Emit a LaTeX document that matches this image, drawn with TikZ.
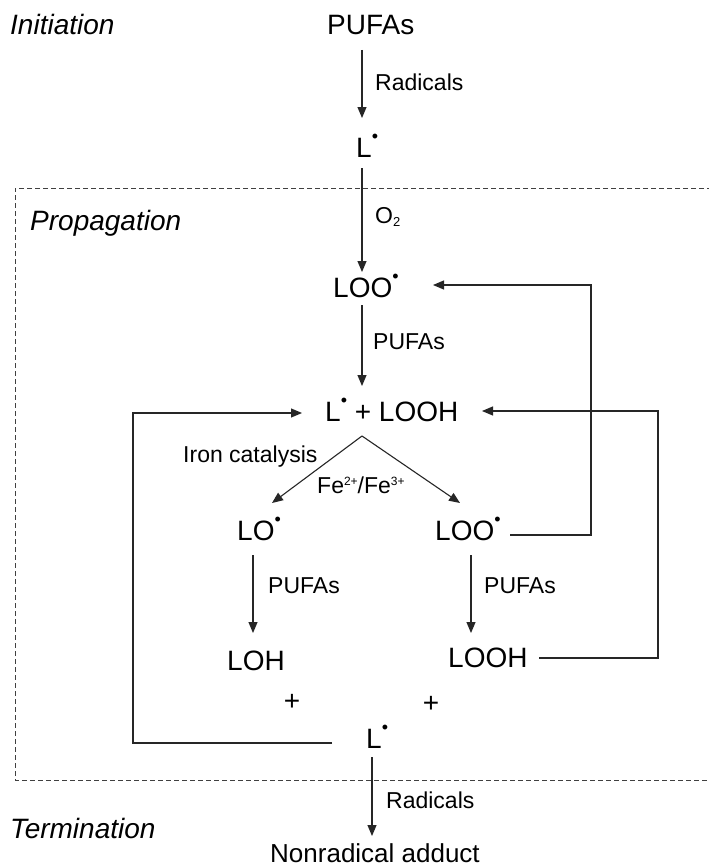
\documentclass[tikz,border=0pt]{standalone}
\usepackage{fontspec}
\setmainfont{Liberation Sans}
\usetikzlibrary{arrows.meta,calc}
\newcommand{\rad}{\raisebox{14.5pt}{\fontsize{18}{18}\selectfont •}}
\newcommand{\upidx}[1]{\raisebox{8pt}{\fontsize{12}{12}\selectfont #1}}
\newcommand{\dnidx}[1]{\raisebox{-3pt}{\fontsize{13}{13}\selectfont #1}}
\begin{document}
\begin{tikzpicture}[x=1pt,y=-1pt,
  main/.style={inner sep=0pt, anchor=base west, font=\fontsize{28}{30}\selectfont},
  lab/.style={inner sep=0pt, anchor=base west, font=\fontsize{23}{25}\selectfont},
  stage/.style={inner sep=0pt, anchor=base west, font=\fontsize{28}{30}\selectfont\itshape},
  arr/.style={-{Triangle[length=11pt,width=9pt]}, line width=1.1pt, draw=black!85},
  box/.style={dash pattern=on 5pt off 3pt, line width=0.9pt, draw=black!75}]
\useasboundingbox (0,0) rectangle (709,867);
\fill[white] (0,0) rectangle (709,867);

\draw[box] (712,188) -- (15,188) -- (15,780) -- (712,780);

\node[stage] (init) at (10,35) {Initiation};
\node[main] (pufa) at (327,35) {PUFAs};
\node[lab] (rad1) at (375,90) {Radicals};
\node[main] (l1) at (356,157) {L\rad};
\node[stage] (prop) at (30,230) {Propagation};
\node[lab] (o2) at (375,223) {O\dnidx{2}};
\node[main] (loo1) at (333,297) {LOO\rad};
\node[lab] (pf1) at (373,349) {PUFAs};
\node[main] (mid) at (325,421) {L\rad{} + LOOH};
\node[lab] (iron) at (183,462) {Iron catalysis};
\node[lab] (fe) at (317,493) {Fe\upidx{2+}/Fe\upidx{3+}};
\node[main] (lo) at (237,540) {LO\rad};
\node[main] (loo2) at (435,540) {LOO\rad};
\node[lab] (pf2) at (268,593) {PUFAs};
\node[lab] (pf3) at (484,593) {PUFAs};
\node[main] (loh) at (227,670) {LOH};
\node[main] (looh) at (448,667) {LOOH};
\node[main, anchor=base] (p1) at (292,710) {+};
\node[main, anchor=base] (p2) at (431,712) {+};
\node[main] (l2) at (366,748) {L\rad};
\node[lab] (rad2) at (386,808) {Radicals};
\node[stage] (term) at (10,838) {Termination};
\node[main, anchor=base, font=\fontsize{26}{28}\selectfont] (non) at (375,862) {Nonradical adduct};

\draw[arr] ($(pufa.base west)+(35,15)$) -- ($(l1.base west)+(6,-39)$);
\draw[arr] ($(l1.base west)+(6,11)$) -- ($(loo1.base west)+(29,-25)$);
\draw[arr] ($(loo1.base west)+(29,8)$) -- ($(mid.base west)+(37,-35)$);
\draw[arr] ($(l2.base west)+(-34,-5)$) -- ++(-199,0) |- ($(mid.base west)+(-23,-8)$);
\draw[arr] ($(loo2.base west)+(75,-5)$) -- ++(81,0) |- ($(loo1.base west)+(100,-12)$);
\draw[arr] ($(looh.base west)+(91,-9)$) -- ++(119,0) |- ($(mid.base west)+(157,-10)$);
\coordinate (apex) at ($(mid.base west)+(37,15)$);
\draw[arr] (apex) -- ($(lo.base west)+(35,-37)$);
\draw[arr] (apex) -- ($(loo2.base west)+(25,-37)$);
\draw[arr] ($(lo.base west)+(16,15)$) -- ($(loh.base west)+(26,-37)$);
\draw[arr] ($(loo2.base west)+(36,15)$) -- ($(looh.base west)+(23,-34)$);
\draw[arr] ($(l2.base west)+(6,9)$) -- ($(non.base)+(-3,-26)$);
\end{tikzpicture}
\end{document}
